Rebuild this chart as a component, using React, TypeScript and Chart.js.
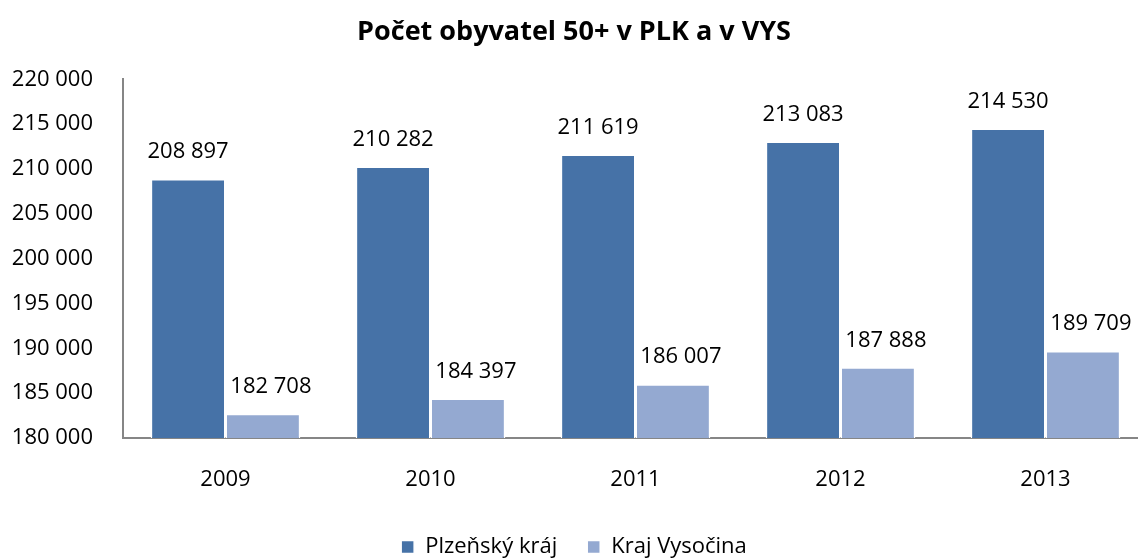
import React, { useEffect, useRef } from "react";
import { Chart, registerables } from "chart.js";

Chart.register(...registerables);

const years = ["2009", "2010", "2011", "2012", "2013"];
const plzensky = [208897, 210282, 211619, 213083, 214530];
const vysocina = [182708, 184397, 186007, 187888, 189709];
const seriesNames = ["Plzeňský kráj", "Kraj Vysočina"];
const titleText = "Počet obyvatel 50+ v PLK a v VYS";

const FONT = "'Open Sans', sans-serif";
const fmt = (n: number) => String(Math.round(n)).replace(/\B(?=(\d{3})+(?!\d))/g, " ");

const LEGEND_PAD = 30;

const labelPlugin = {
  id: "valueLabels",
  afterDatasetsDraw(chart: any) {
    const ctx = chart.ctx;
    ctx.save();
    ctx.font = `22px ${FONT}`;
    ctx.fillStyle = "#000";
    ctx.textAlign = "center";
    ctx.textBaseline = "middle";
    chart.data.datasets.forEach((ds: any, di: number) => {
      const meta = chart.getDatasetMeta(di);
      const dx = di === 1 ? 8 : 0;
      meta.data.forEach((bar: any, i: number) => {
        ctx.fillText(fmt(ds.data[i]), bar.x + dx, bar.y - 27);
      });
    });
    ctx.restore();
  },
};

const legendShift = {
  id: "legendShift",
  afterLayout(chart: any) {
    const lg = chart.legend;
    if (!lg) return;
    const h = lg.height;
    lg.top = 548 - LEGEND_PAD - 12;
    lg.bottom = lg.top + h;
  },
};

export default function App() {
  const ref = useRef<HTMLCanvasElement | null>(null);
  useEffect(() => {
    if (!ref.current) return;
    const chart = new Chart(ref.current, {
      type: "bar",
      data: {
        labels: years,
        datasets: [
          {
            label: seriesNames[0],
            data: plzensky,
            backgroundColor: "#4672A7",
            borderColor: "#FFFFFF",
            borderWidth: 1.5,
          },
          {
            label: seriesNames[1],
            data: vysocina,
            backgroundColor: "#94A9D1",
            borderColor: "#FFFFFF",
            borderWidth: 1.5,
          },
        ],
      },
      options: {
        animation: false,
        responsive: false,
        maintainAspectRatio: false,
        layout: { padding: { left: 0, right: 12, top: 0, bottom: 0 } },
        datasets: { bar: { barPercentage: 1, categoryPercentage: 0.73 } },
        plugins: {
          title: {
            display: true,
            text: titleText,
            color: "#000",
            font: { family: FONT, size: 27, weight: "bold", lineHeight: 1.2 },
            padding: { top: 16, bottom: 31 },
          },
          legend: {
            position: "bottom",
            labels: {
              color: "#000",
              font: { family: FONT, size: 22 },
              boxWidth: 13,
              boxHeight: 13,
              padding: LEGEND_PAD,
            },
          },
          tooltip: { enabled: false },
        },
        scales: {
          x: {
            grid: { display: false, drawTicks: false },
            border: { display: true, color: "#868686", width: 2 },
            ticks: { color: "#000", font: { family: FONT, size: 22 }, padding: 29 },
            afterFit: (s: any) => {
              s.height = 59;
            },
          },
          y: {
            min: 180000,
            max: 220000,
            grid: { display: false, drawTicks: false },
            border: { display: true, color: "#868686", width: 2 },
            ticks: {
              stepSize: 5000,
              color: "#000",
              font: { family: FONT, size: 22 },
              padding: 30,
              callback: (v: any) => fmt(Number(v)),
            },
            afterFit: (s: any) => {
              s.width = 123;
            },
          },
        },
      },
      plugins: [labelPlugin, legendShift],
    });
    return () => chart.destroy();
  }, []);
  return (
    <div style={{ position: "fixed", left: 0, top: 0, width: 1160, height: 559, background: "#fff" }}>
      <canvas ref={ref} width={1160} height={559} style={{ width: 1160, height: 559 }} />
    </div>
  );
}
